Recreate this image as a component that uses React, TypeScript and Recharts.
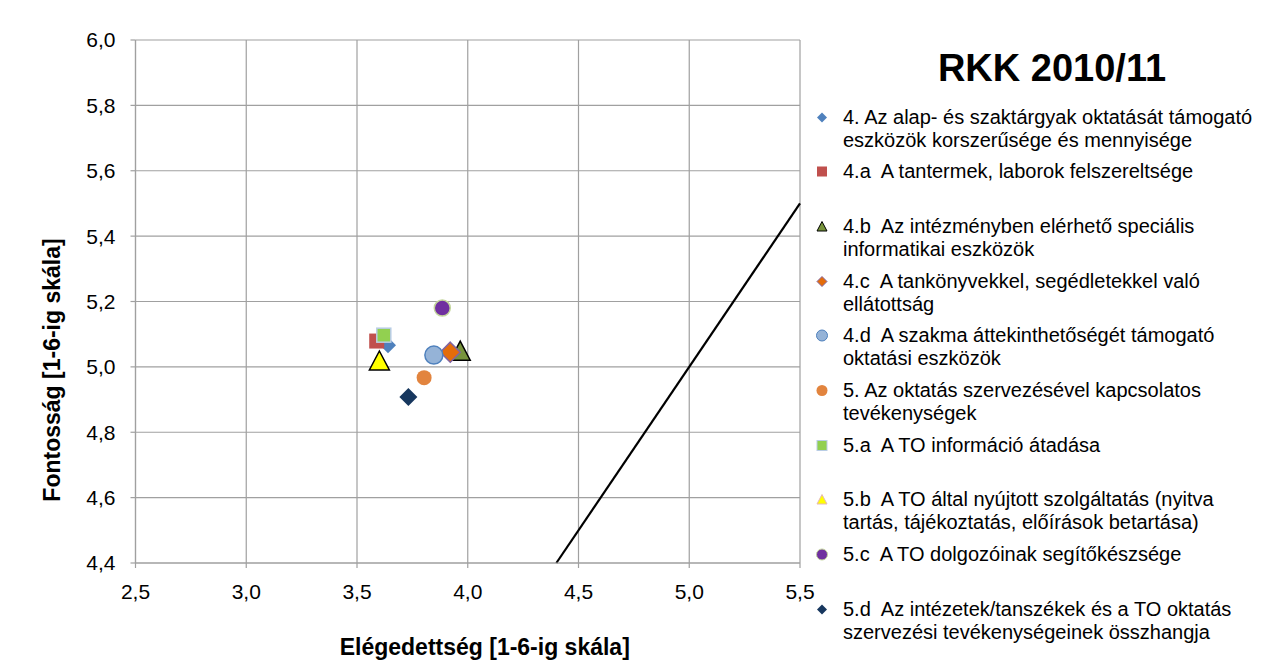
import React from 'react';
import { ScatterChart, Scatter, XAxis, YAxis, CartesianGrid, ReferenceLine, Legend, Label } from 'recharts';

const chartTitle = 'RKK 2010/11';
const xAxisTitle = 'Elégedettség [1-6-ig skála]';
const yAxisTitle = 'Fontosság [1-6-ig skála]';

const seriesNames = [
  '4. Az alap- és szaktárgyak oktatását támogató\neszközök korszerűsége és mennyisége',
  '4.a  A tantermek, laborok felszereltsége',
  '4.b  Az intézményben elérhető speciális\ninformatikai eszközök',
  '4.c  A tankönyvekkel, segédletekkel való\nellátottság',
  '4.d  A szakma áttekinthetőségét támogató\noktatási eszközök',
  '5. Az oktatás szervezésével kapcsolatos\ntevékenységek',
  '5.a  A TO információ átadása',
  '5.b  A TO által nyújtott szolgáltatás (nyitva\ntartás, tájékoztatás, előírások betartása)',
  '5.c  A TO dolgozóinak segítőkészsége',
  '5.d  Az intézetek/tanszékek és a TO oktatás\nszervezési tevékenységeinek összhangja',
];
const satisfaction = [3.64, 3.589, 3.966, 3.921, 3.847, 3.803, 3.621, 3.601, 3.885, 3.732];
const importance = [5.066, 5.079, 5.048, 5.045, 5.036, 4.967, 5.097, 5.018, 5.18, 4.908];
const xTicks = [2.5, 3.0, 3.5, 4.0, 4.5, 5.0, 5.5];
const yTicks = [4.4, 4.6, 4.8, 5.0, 5.2, 5.4, 5.6, 5.8, 6.0];
const diagonalEnds = [4.4, 5.5];

type Kind = 'diamond' | 'square' | 'triangle' | 'circle';
interface MarkerStyle { kind: Kind; size: number; fill: string; stroke: string; sw: number; legendStroke: string; }
const markerStyles: MarkerStyle[] = [
  { kind: 'diamond', size: 16, fill: '#4F81BD', stroke: 'none', sw: 0, legendStroke: 'none' },
  { kind: 'square', size: 15, fill: '#C0504D', stroke: 'none', sw: 0, legendStroke: 'none' },
  { kind: 'triangle', size: 20, fill: '#77933C', stroke: '#000', sw: 1.5, legendStroke: '#000' },
  { kind: 'diamond', size: 20, fill: '#E46C0A', stroke: '#8064A2', sw: 1.5, legendStroke: '#8064A2' },
  { kind: 'circle', size: 18, fill: '#95B3D7', stroke: '#4F81BD', sw: 1.5, legendStroke: '#4F81BD' },
  { kind: 'circle', size: 15, fill: '#E2843E', stroke: 'none', sw: 0, legendStroke: 'none' },
  { kind: 'square', size: 14, fill: '#92D050', stroke: '#B9CDE5', sw: 1.5, legendStroke: '#B9CDE5' },
  { kind: 'triangle', size: 20, fill: '#FFFF00', stroke: '#000', sw: 1.5, legendStroke: '#E6B9B8' },
  { kind: 'circle', size: 16, fill: '#7030A0', stroke: '#C3D69B', sw: 1.5, legendStroke: '#C3D69B' },
  { kind: 'diamond', size: 18, fill: '#17375E', stroke: 'none', sw: 0, legendStroke: 'none' },
];

const FONT = '"Liberation Sans", Arial, Helvetica, sans-serif';
const GRID = '#A0A0A0';

function markerPath(kind: Kind, cx: number, cy: number, size: number, fill: string, stroke: string, sw: number, key?: string) {
  const h = size / 2;
  const common = { fill, stroke, strokeWidth: sw };
  if (kind === 'diamond') return <path key={key} d={`M${cx},${cy - h}L${cx + h},${cy}L${cx},${cy + h}L${cx - h},${cy}Z`} {...common} />;
  if (kind === 'square') return <rect key={key} x={cx - h} y={cy - h} width={size} height={size} {...common} />;
  if (kind === 'triangle') return <path key={key} d={`M${cx},${cy - h}L${cx + h},${cy + h * 0.9}L${cx - h},${cy + h * 0.9}Z`} {...common} />;
  return <circle key={key} cx={cx} cy={cy} r={h} {...common} />;
}

const fmt = (v: number) => v.toFixed(1).replace('.', ',');

function LegendBox() {
  const start = 109;
  const pitch = 54.7;
  return (
    <div style={{ position: 'relative', width: 450, height: 658, fontFamily: FONT }}>
      <div style={{ position: 'absolute', left: 0, width: 488, top: 38, textAlign: 'center', fontSize: 38, fontWeight: 'bold', lineHeight: '44px', color: '#000' }}>{chartTitle}</div>
      {seriesNames.map((name, i) => {
        const m = markerStyles[i];
        const cy = start + i * pitch;
        return (
          <div key={i} style={{ position: 'absolute', left: 0, top: cy - 11.5, width: 450 }}>
            <svg width={24} height={23} style={{ position: 'absolute', left: 2, top: 0 }}>
              {markerPath(m.kind, 12, 11.5, m.kind === 'circle' ? 11 : 10, m.fill, m.legendStroke, m.legendStroke === 'none' ? 0 : 1)}
            </svg>
            <div style={{ position: 'absolute', left: 35, top: 0, whiteSpace: 'pre', fontSize: 20, lineHeight: '23px', color: '#000' }}>{name}</div>
          </div>
        );
      })}
    </div>
  );
}

const titleStyle = { fontSize: 23, fontWeight: 'bold' as const, fill: '#000', fontFamily: FONT };

function XTitle(props: any) {
  const vb = props.viewBox || { x: 0, y: 0, width: 0, height: 0 };
  const x = vb.x + vb.width / 2 + 17;
  const y = vb.y + vb.height + 23.5;
  return <text x={x} y={y} dy="0.36em" textAnchor="middle" style={titleStyle}>{xAxisTitle}</text>;
}

function YTitle(props: any) {
  const vb = props.viewBox || { x: 0, y: 0, width: 0, height: 0 };
  const x = vb.x + 16.5;
  const y = vb.y + 330;
  return <text x={x} y={y} dy="0.36em" textAnchor="middle" transform={`rotate(-90, ${x}, ${y})`} style={titleStyle}>{yAxisTitle}</text>;
}

export default function App() {
  return (
    <div style={{ position: 'relative', width: 1258, height: 658, marginLeft: -1, marginTop: -1, borderLeft: '1px solid #8C8C8C', borderTop: '1px solid #8C8C8C' }}>
      <ScatterChart width={1258} height={658} margin={{ top: 32, right: 16, bottom: 43, left: 27.5 }} style={{ fontFamily: FONT }}>
        <CartesianGrid stroke={GRID} strokeWidth={1.2} />
        <XAxis
          type="number"
          dataKey="x"
          domain={[2.5, 5.5]}
          ticks={xTicks}
          interval={0}
          allowDataOverflow
          tickFormatter={fmt}
          height={60}
          tickSize={5}
          tickMargin={16}
          axisLine={{ stroke: GRID, strokeWidth: 1.2 }}
          tickLine={{ stroke: GRID, strokeWidth: 1.2 }}
          tick={{ fontSize: 21, fill: '#000', fontFamily: FONT }}
        >
          <Label content={<XTitle />} />
        </XAxis>
        <YAxis
          type="number"
          dataKey="y"
          domain={[4.4, 6.0]}
          ticks={yTicks}
          interval={0}
          allowDataOverflow
          tickFormatter={fmt}
          width={100}
          tickSize={5}
          tickMargin={15}
          axisLine={{ stroke: GRID, strokeWidth: 1.2 }}
          tickLine={{ stroke: GRID, strokeWidth: 1.2 }}
          tick={{ fontSize: 21, fill: '#000', fontFamily: FONT }}
        >
          <Label content={<YTitle />} />
        </YAxis>
        <ReferenceLine
          segment={[{ x: diagonalEnds[0], y: diagonalEnds[0] }, { x: diagonalEnds[1], y: diagonalEnds[1] }]}
          stroke="#000"
          strokeWidth={2.2}
          ifOverflow="visible"
        />
        {seriesNames.map((name, i) => {
          const m = markerStyles[i];
          return (
            <Scatter
              key={i}
              name={name}
              data={[{ x: satisfaction[i], y: importance[i] }]}
              isAnimationActive={false}
              shape={(p: any) => markerPath(m.kind, p.cx, p.cy, m.size, m.fill, m.stroke, m.sw)}
            />
          );
        })}
        <Legend
          layout="vertical"
          align="right"
          verticalAlign="top"
          wrapperStyle={{ position: 'absolute', left: 800, top: 0, width: 450, height: 658 }}
          content={() => <LegendBox />}
        />
      </ScatterChart>
    </div>
  );
}
